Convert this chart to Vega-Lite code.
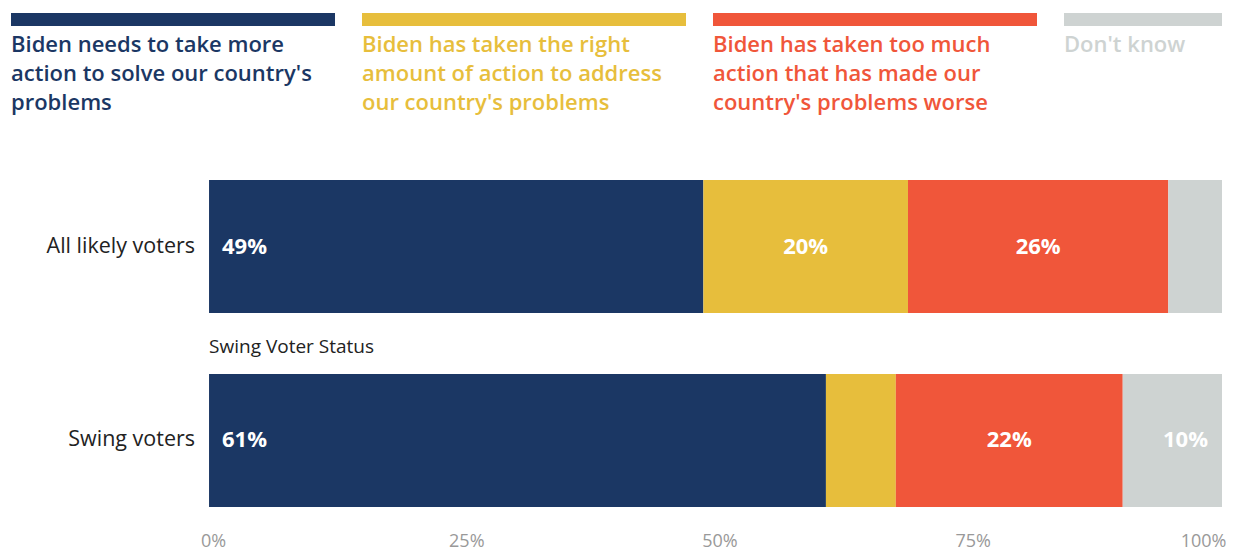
{
  "$schema": "https://vega.github.io/schema/vega-lite/v6.json",
  "padding": {"left": 11, "top": 13, "right": 0, "bottom": 0},
  "background": "white",
  "spacing": 66,
  "config": {"view": {"stroke": null}, "font": "Open Sans"},
  "datasets": {
    "responses": [
      {"group": "All likely voters", "response": "Biden needs to take more action to solve our country's problems", "value": 48.8},
      {"group": "All likely voters", "response": "Biden has taken the right amount of action to address our country's problems", "value": 20.2},
      {"group": "All likely voters", "response": "Biden has taken too much action that has made our country's problems worse", "value": 25.7},
      {"group": "All likely voters", "response": "Don't know", "value": 5.3},
      {"group": "Swing voters", "response": "Biden needs to take more action to solve our country's problems", "value": 60.9},
      {"group": "Swing voters", "response": "Biden has taken the right amount of action to address our country's problems", "value": 6.9},
      {"group": "Swing voters", "response": "Biden has taken too much action that has made our country's problems worse", "value": 22.4},
      {"group": "Swing voters", "response": "Don't know", "value": 9.8}
    ],
    "legend": [
      {"response": "Biden needs to take more action to solve our country's problems", "label": "Biden needs to take more\naction to solve our country's\nproblems"},
      {"response": "Biden has taken the right amount of action to address our country's problems", "label": "Biden has taken the right\namount of action to address\nour country's problems"},
      {"response": "Biden has taken too much action that has made our country's problems worse", "label": "Biden has taken too much\naction that has made our\ncountry's problems worse"},
      {"response": "Don't know", "label": "Don't know"}
    ]
  },
  "vconcat": [
    {
      "width": 1211,
      "height": 13,
      "data": {"name": "legend"},
      "layer": [
        {
          "mark": {"type": "rect", "clip": true},
          "encoding": {
            "x": {"field": "response", "type": "nominal", "axis": null,
              "scale": {"domain": ["Biden needs to take more action to solve our country's problems", "Biden has taken the right amount of action to address our country's problems", "Biden has taken too much action that has made our country's problems worse", "Don't know"], "range": [0, 1377], "paddingInner": 0.0769, "paddingOuter": 0}},
            "color": {"field": "response", "type": "nominal", "legend": null,
              "scale": {"domain": ["Biden needs to take more action to solve our country's problems", "Biden has taken the right amount of action to address our country's problems", "Biden has taken too much action that has made our country's problems worse", "Don't know"], "range": ["#1B3764", "#E7BE3C", "#F0563A", "#CED3D2"]}}
          }
        },
        {
          "mark": {"type": "text", "align": "left", "baseline": "top", "lineBreak": "\n", "fontSize": 22, "fontWeight": 600, "lineHeight": 29, "dy": 15},
          "encoding": {
            "x": {"field": "response", "type": "nominal", "bandPosition": 0},
            "text": {"field": "label"},
            "color": {"field": "response", "type": "nominal", "legend": null}
          }
        }
      ]
    },
    {
      "width": 1211,
      "height": 327,
      "data": {"name": "responses"},
      "transform": [
        {"calculate": "indexof(['Biden needs to take more action to solve our country\\'s problems', 'Biden has taken the right amount of action to address our country\\'s problems', 'Biden has taken too much action that has made our country\\'s problems worse', 'Don\\'t know'], datum.response)", "as": "order"},
        {"stack": "value", "groupby": ["group"], "sort": [{"field": "order", "order": "ascending"}], "as": ["x0", "x1"]},
        {"calculate": "(datum.x0 + datum.x1) / 2", "as": "mid"},
        {"calculate": "format(datum.value, '.0f') + '%'", "as": "label"}
      ],
      "encoding": {
        "y": {"field": "group", "type": "nominal", "axis": null,
          "scale": {"domain": ["All likely voters", "Swing voters"], "paddingInner": 0.314, "paddingOuter": 0}}
      },
      "layer": [
        {
          "mark": {"type": "bar"},
          "encoding": {
            "x": {"field": "x0", "type": "quantitative",
              "scale": {"domain": [-19.55, 100], "nice": false, "zero": false},
              "axis": {"values": [0, 25, 50, 75, 100], "labelExpr": "datum.value + '%'", "title": null, "domain": false, "ticks": false, "grid": false, "labelColor": "#999999", "labelFontSize": 18, "labelPadding": 25, "labelOffset": 4, "labelFont": "Open Sans"}},
            "x2": {"field": "x1"},
            "color": {"field": "response", "type": "nominal", "legend": null,
              "scale": {"domain": ["Biden needs to take more action to solve our country's problems", "Biden has taken the right amount of action to address our country's problems", "Biden has taken too much action that has made our country's problems worse", "Don't know"], "range": ["#1B3764", "#E7BE3C", "#F0563A", "#CED3D2"]}}
          }
        },
        {
          "transform": [{"filter": "datum.order == 0"}],
          "mark": {"type": "text", "align": "right", "baseline": "middle", "dx": -14, "fontSize": 21.5, "color": "#222222"},
          "encoding": {
            "x": {"datum": 0},
            "text": {"field": "group"}
          }
        },
        {
          "transform": [{"filter": "datum.order == 0 && datum.group == 'Swing voters'"}, {"calculate": "'Swing Voter Status'", "as": "header"}],
          "mark": {"type": "text", "align": "left", "baseline": "middle", "dy": -27, "fontSize": 19, "color": "#222222"},
          "encoding": {
            "x": {"datum": 0},
            "y": {"field": "group", "type": "nominal", "bandPosition": 0},
            "text": {"field": "header"}
          }
        },
        {
          "transform": [{"filter": "datum.order == 0 && datum.value >= 8"}],
          "mark": {"type": "text", "align": "left", "baseline": "middle", "dx": 13, "fontSize": 22, "fontWeight": 700, "color": "white"},
          "encoding": {
            "x": {"field": "x0", "type": "quantitative"},
            "text": {"field": "label"}
          }
        },
        {
          "transform": [{"filter": "(datum.order == 1 || datum.order == 2) && datum.value >= 8"}],
          "mark": {"type": "text", "align": "center", "baseline": "middle", "fontSize": 22, "fontWeight": 700, "color": "white"},
          "encoding": {
            "x": {"field": "mid", "type": "quantitative"},
            "text": {"field": "label"}
          }
        },
        {
          "transform": [{"filter": "datum.order == 3 && datum.value >= 8"}],
          "mark": {"type": "text", "align": "right", "baseline": "middle", "dx": -14, "fontSize": 22, "fontWeight": 700, "color": "white"},
          "encoding": {
            "x": {"field": "x1", "type": "quantitative"},
            "text": {"field": "label"}
          }
        }
      ]
    }
  ]
}
